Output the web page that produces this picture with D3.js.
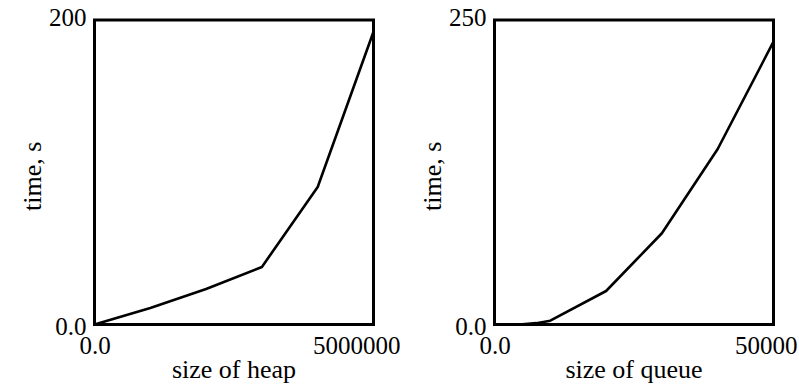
<!DOCTYPE html>
<html>
<head>
<meta charset="utf-8">
<script src="https://cdn.jsdelivr.net/npm/d3@7"></script>
<style>
  html, body { margin: 0; padding: 0; background: #fff; }
  svg { display: block; }
  text { font-family: "Liberation Serif", "Times New Roman", serif; fill: #000; }
</style>
</head>
<body>
<script>
// ---- data ----
const heapSizes = [0, 1000000, 2000000, 3000000, 4000000, 5000000];
const heapTimes = [0, 10.8, 23.3, 37.8, 90.3, 192.3];
const queueSizes = [0, 2500, 5000, 7500, 10000, 20000, 30000, 40000, 50000];
const queueTimes = [0, 0, 0.2, 1.1, 3.1, 27.5, 74.9, 144.1, 232.2];
const heapXTicks = [0, 5000000];
const heapYTicks = [0, 200];
const queueXTicks = [0, 50000];
const queueYTicks = [0, 250];
const xTitles = ["size of heap", "size of queue"];
const yTitle = "time, s";

const W = 799, H = 389;
const svg = d3.select("body").append("svg").attr("width", W).attr("height", H);

const fmt = v => v === 0 ? "0.0" : d3.format("d")(v);

function panel(ox, sizes, times, xTicks, yTicks, xTitle, panelRight) {
  const left = 94.5, right = 373.5, top = 20, bottom = 324.5;
  const g = svg.append("g").attr("transform", `translate(${ox},0)`);
  const x = d3.scaleLinear().domain([xTicks[0], xTicks[xTicks.length - 1]]).range([left, right]);
  const y = d3.scaleLinear().domain([yTicks[0], yTicks[yTicks.length - 1]]).range([bottom, top]);

  // frame
  g.append("rect")
    .attr("x", left).attr("y", top)
    .attr("width", right - left).attr("height", bottom - top)
    .attr("fill", "none").attr("stroke", "#000").attr("stroke-width", 3);

  // line
  const line = d3.line().x((d, i) => x(sizes[i])).y(d => y(d));
  g.append("path").datum(times)
    .attr("d", line)
    .attr("fill", "none").attr("stroke", "#000").attr("stroke-width", 2.6)
    .attr("stroke-linejoin", "round");

  // y axis
  const ya = g.append("g").attr("transform", `translate(${left},0)`)
    .call(d3.axisLeft(y).tickValues(yTicks).tickFormat(fmt).tickSize(0).tickPadding(8));
  ya.select(".domain").remove();
  ya.attr("font-family", null);
  ya.selectAll("text")
    .attr("font-size", 25)
    .attr("fill", "#000")
    .attr("dy", (d, i) => d === 0 ? "0.4em" : "0.2em");

  // x axis
  const xa = g.append("g").attr("transform", `translate(0,${bottom})`)
    .call(d3.axisBottom(x).tickValues(xTicks).tickFormat(fmt).tickSize(0).tickPadding(12));
  xa.select(".domain").remove();
  xa.attr("font-family", null);
  xa.selectAll("text")
    .attr("font-size", 25)
    .attr("fill", "#000")
    .attr("dy", "0.71em");
  // last tick label kept within the panel
  xa.selectAll(".tick").filter(d => d === xTicks[xTicks.length - 1])
    .each(function () {
      const t = d3.select(this).select("text");
      const xpos = x(xTicks[xTicks.length - 1]);
      t.attr("text-anchor", "end").attr("x", panelRight - xpos);
    });

  // titles
  g.append("text")
    .attr("x", (left + right) / 2).attr("y", 378)
    .attr("text-anchor", "middle").attr("font-size", 26)
    .text(xTitle);
  g.append("text")
    .attr("transform", `translate(41,${(top + bottom) / 2 + 4}) rotate(-90)`)
    .attr("text-anchor", "middle").attr("font-size", 26)
    .text(yTitle);
}

panel(0, heapSizes, heapTimes, heapXTicks, heapYTicks, xTitles[0], 400);
panel(400, queueSizes, queueTimes, queueXTicks, queueYTicks, xTitles[1], 397);
</script>
</body>
</html>
